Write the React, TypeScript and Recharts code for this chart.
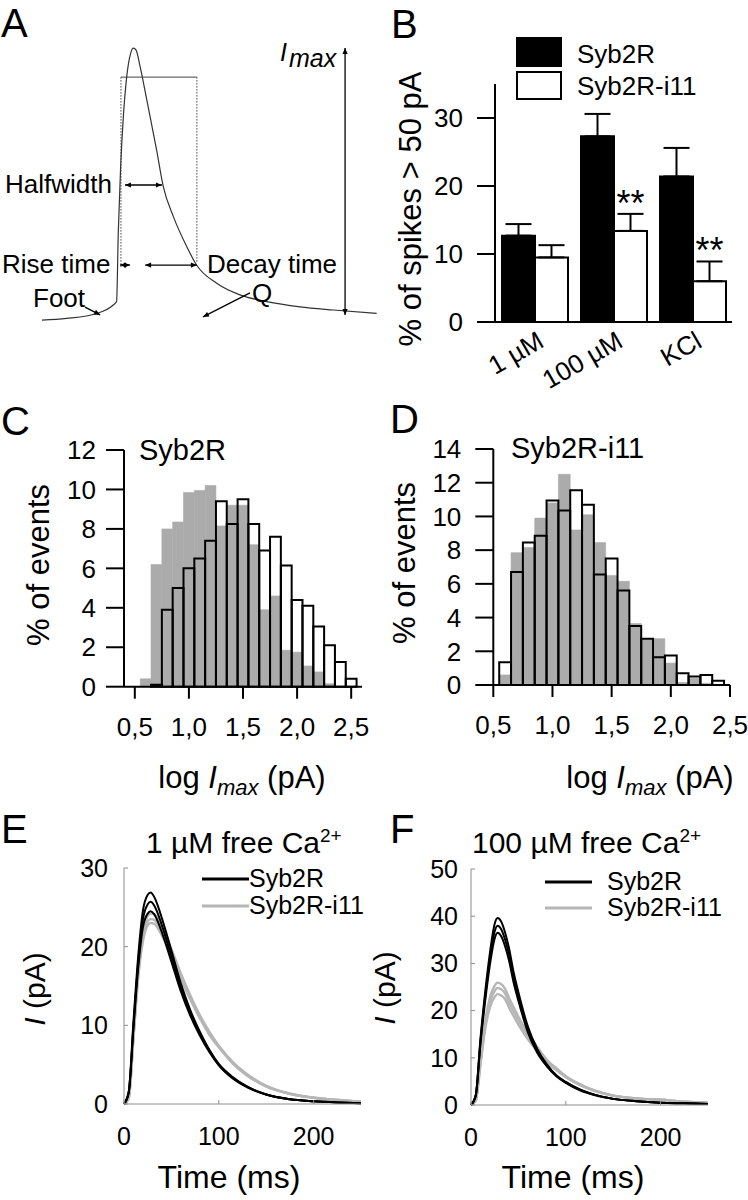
import React from "react";
import {
  Bar,
  BarChart,
  ErrorBar,
  LabelList,
  Legend,
  Line,
  LineChart,
  ReferenceLine,
  XAxis,
  YAxis,
} from "recharts";

const FONT = "'Liberation Sans', Arial, Helvetica, sans-serif";
const BAR_GRAY = "#ababab";
const LINE_GRAY = "#b6b6b6";
const AXIS_GRAY = "#8c8c8c";

// A: single amperometric spike, arbitrary units
const spikeTime = [0, 7.3, 16.3, 21.2, 22.2, 22.7, 23.4, 24.2, 25.2, 26.4, 27.2, 28.0, 29.2, 31.2, 34.1, 36.1, 39.1, 43.1, 46.0, 52.0, 58.9, 66.9, 76.8, 86.7, 99.6];
const spikeCurrent = [3.4, 4.0, 5.7, 8.6, 9.8, 33.4, 56.2, 73.4, 87.2, 95.5, 97.2, 96.5, 90.8, 79.3, 62.1, 49.4, 39.1, 28.7, 22.4, 16.1, 12.1, 9.8, 8.0, 6.9, 5.7];
// [x1, y1, x2, y2, dashed]
const guideSegments: [number, number, number, number, boolean][] = [
  [23.5, 87.2, 46.1, 87.2, false],
  [23.5, 87.2, 23.5, 21.7, true],
  [46.1, 87.2, 46.1, 23.1, true],
];
// [x1, y1, x2, y2, double headed]
const arrowSegments: [number, number, number, number, boolean][] = [
  [24.7, 50, 35.7, 50, true],
  [23.2, 22.4, 26.2, 22.4, true],
  [30.7, 22.4, 46.1, 22.4, true],
  [12.8, 7.9, 17.3, 5.2, false],
  [61.9, 12.8, 47.9, 4.5, false],
  [90.2, 5.2, 90.2, 97.2, true],
];

// B
const conditions = ["1 µM", "100 µM", "KCl"];
const syb2rPct = [12.7, 27.3, 21.4];
const syb2rSem = [1.7, 3.3, 4.2];
const i11Pct = [9.5, 13.4, 6.0];
const i11Sem = [1.8, 2.5, 2.9];
const i11Sig = ["", "**", "**"];

// C, D histograms (bin centres, % of events)
const logTicks = [0.5, 1.0, 1.5, 2.0, 2.5];
const binsC = [0.6, 0.7, 0.8, 0.9, 1.0, 1.1, 1.2, 1.3, 1.4, 1.5, 1.6, 1.7, 1.8, 1.9, 2.0, 2.1, 2.2, 2.3, 2.4, 2.5];
const cFilled = [0.4, 6.2, 8.0, 8.35, 9.85, 9.95, 10.2, 8.15, 9.2, 9.2, 7.2, 3.9, 4.6, 1.85, 1.75, 1.05, 0.75, 0.15, 0, 0];
const cOpen = [0, 0.1, 3.9, 5.0, 6.0, 6.5, 7.4, 9.4, 8.25, 9.5, 8.25, 6.9, 7.6, 6.15, 4.4, 4.1, 3.05, 2.1, 1.25, 0.4];
const binsD = [0.6, 0.7, 0.8, 0.9, 1.0, 1.1, 1.2, 1.3, 1.4, 1.5, 1.6, 1.7, 1.8, 1.9, 2.0, 2.1, 2.2, 2.3, 2.4];
const dFilled = [0.6, 7.85, 8.15, 9.9, 10.8, 12.5, 9.2, 10.1, 8.45, 6.5, 6.15, 3.65, 2.7, 2.75, 1.3, 0.15, 0.4, 0.1, 0];
const dOpen = [1.35, 6.7, 8.45, 8.85, 10.95, 10.35, 11.55, 10.7, 6.55, 7.5, 5.6, 3.5, 2.75, 1.65, 1.75, 0.7, 0.5, 0.6, 0.25];

// E, F mean spikes (pA)
const timeMs = [0, 5, 10, 15, 20, 25, 28, 32, 36, 40, 45, 50, 60, 70, 80, 90, 100, 115, 130, 150, 175, 200, 225, 250];
const eBlackHi = [0, 1.6, 10.5, 18.8, 24.6, 26.6, 26.9, 26.3, 25.1, 23.6, 21.6, 19.5, 15.3, 11.9, 9.2, 6.9, 5.1, 3.4, 2.2, 1.2, 0.6, 0.35, 0.2, 0.1];
const eBlackMid = [0, 1.5, 10, 18, 23.5, 25.4, 25.7, 25.2, 24.1, 22.7, 20.8, 18.8, 14.8, 11.6, 9.0, 6.8, 5.0, 3.3, 2.2, 1.2, 0.6, 0.35, 0.2, 0.1];
const eBlackLo = [0, 1.4, 9.6, 17.3, 22.5, 24.2, 24.5, 24.1, 23.1, 21.8, 20.0, 18.1, 14.3, 11.2, 8.7, 6.6, 4.9, 3.2, 2.1, 1.2, 0.6, 0.35, 0.2, 0.1];
const eGrayHi = [0, 0.8, 8.8, 17.0, 21.8, 23.9, 24.2, 24.1, 23.5, 22.5, 21.2, 19.7, 16.6, 13.8, 11.3, 9.2, 7.4, 5.3, 3.8, 2.3, 1.3, 0.8, 0.5, 0.3];
const eGrayMid = [0, 0.8, 8.5, 16.5, 21.2, 23.2, 23.5, 23.4, 22.8, 21.9, 20.6, 19.2, 16.2, 13.5, 11.1, 9.0, 7.3, 5.2, 3.7, 2.3, 1.3, 0.8, 0.5, 0.3];
const eGrayLo = [0, 0.7, 8.3, 16.1, 20.7, 22.7, 23.0, 22.9, 22.3, 21.4, 20.2, 18.8, 15.9, 13.3, 10.9, 8.8, 7.2, 5.1, 3.6, 2.2, 1.3, 0.8, 0.5, 0.3];
const fBlackHi = [0, 2.1, 14.1, 24, 32.3, 38.4, 39.6, 38.8, 36.5, 33.3, 28.1, 23.9, 16.6, 11.8, 8.6, 6.3, 4.9, 3.3, 2.2, 1.3, 0.8, 0.5, 0.35, 0.2];
const fBlackMid = [0, 2, 13.5, 23, 31, 36.8, 38, 37.2, 35, 32, 27, 23, 16, 11.4, 8.4, 6.2, 4.8, 3.2, 2.2, 1.3, 0.8, 0.5, 0.35, 0.2];
const fBlackLo = [0, 1.9, 13.0, 22.1, 29.8, 35.3, 36.5, 35.7, 33.6, 30.7, 25.9, 22.1, 15.4, 11.0, 8.2, 6.1, 4.7, 3.1, 2.1, 1.3, 0.8, 0.5, 0.35, 0.2];
const fGrayHi = [0, 1, 9.4, 17.8, 22.8, 25.3, 25.9, 25.6, 24.6, 22.8, 20.7, 18.7, 15.2, 12.3, 9.6, 7.8, 6.1, 4.4, 3.1, 2.0, 1.4, 1.1, 0.7, 0.5];
const fGrayMid = [0, 1, 9, 17, 21.8, 24.2, 24.8, 24.5, 23.6, 21.8, 19.8, 17.9, 14.6, 11.9, 9.3, 7.6, 6.0, 4.3, 3.1, 2.0, 1.4, 1.1, 0.7, 0.5];
const fGrayLo = [0, 0.9, 8.5, 16.1, 20.7, 22.9, 23.5, 23.2, 22.4, 20.7, 18.8, 17.0, 13.9, 11.4, 9.0, 7.4, 5.9, 4.2, 3.0, 2.0, 1.4, 1.1, 0.7, 0.5];

const spikeData = spikeTime.map((t, i) => ({ t, i: spikeCurrent[i] }));
const bData = conditions.map((cond, i) => ({
  cond,
  syb2r: syb2rPct[i],
  syb2rErr: [0, syb2rSem[i]],
  i11: i11Pct[i],
  i11Err: [0, i11Sem[i]],
}));
const cData = binsC.map((bin, i) => ({ bin, filled: cFilled[i], open: cOpen[i] }));
const dData = binsD.map((bin, i) => ({ bin, filled: dFilled[i], open: dOpen[i] }));
const eData = timeMs.map((t, i) => ({
  t, k1: eBlackHi[i], k2: eBlackMid[i], k3: eBlackLo[i], g1: eGrayHi[i], g2: eGrayMid[i], g3: eGrayLo[i],
}));
const fData = timeMs.map((t, i) => ({
  t, k1: fBlackHi[i], k2: fBlackMid[i], k3: fBlackLo[i], g1: fGrayHi[i], g2: fGrayMid[i], g3: fGrayLo[i],
}));

const comma = (v: number) => v.toFixed(1).replace(".", ",");
const blackAxis = { stroke: "#000", strokeWidth: 2 };
const grayAxis = { stroke: AXIS_GRAY, strokeWidth: 1 };
const tickFont = (size: number) => ({ fill: "#000", fontSize: size, fontFamily: FONT });

function head(x: number, y: number, ang: number) {
  const L = 6;
  const W = 2.6;
  const bx = x - L * Math.cos(ang);
  const by = y - L * Math.sin(ang);
  const px = -Math.sin(ang) * W;
  const py = Math.cos(ang) * W;
  return <polygon points={`${x},${y} ${bx + px},${by + py} ${bx - px},${by - py}`} fill="#000" />;
}

const arrowShape = (both: boolean) => (p: any) => {
  const { x1, y1, x2, y2 } = p;
  const ang = Math.atan2(y2 - y1, x2 - x1);
  return (
    <g>
      <line x1={x1} y1={y1} x2={x2} y2={y2} stroke="#000" strokeWidth={1.3} />
      {head(x2, y2, ang)}
      {both && head(x1, y1, ang + Math.PI)}
    </g>
  );
};

function PanelA() {
  return (
    <LineChart width={380} height={340} data={spikeData} margin={{ top: 40, right: 2, bottom: 10, left: 42 }}>
      <XAxis type="number" dataKey="t" domain={[0, 100]} hide />
      <YAxis type="number" domain={[0, 100]} hide />
      {guideSegments.map(([xa, ya, xb, yb, dashed], k) => (
        <ReferenceLine
          key={"g" + k}
          segment={[{ x: xa, y: ya }, { x: xb, y: yb }]}
          stroke="#444"
          strokeWidth={1}
          strokeDasharray={dashed ? "1.5 1.5" : undefined}
          ifOverflow="visible"
        />
      ))}
      <Line type="monotone" dataKey="i" stroke="#333" strokeWidth={1.2} dot={false} isAnimationActive={false} />
      {arrowSegments.map(([xa, ya, xb, yb, both], k) => (
        <ReferenceLine
          key={"a" + k}
          segment={[{ x: xa, y: ya }, { x: xb, y: yb }]}
          shape={arrowShape(both)}
          ifOverflow="visible"
        />
      ))}
    </LineChart>
  );
}

const CondTick = (p: any) => {
  const { x, y, payload } = p;
  const ax = x + 11;
  const ay = y + 24;
  return (
    <text x={ax} y={ay} textAnchor="end" fontSize={26} fontFamily={FONT} fill="#000" transform={`rotate(-30, ${ax}, ${ay})`}>
      {payload.value}
    </text>
  );
};

const Stars = (p: any) => {
  const vb = p.viewBox ?? p;
  const i = p.index;
  if (i == null || !i11Sig[i]) return null;
  const top = vb.y - (i11Sem[i] * vb.height) / i11Pct[i];
  return (
    <text x={vb.x + vb.width / 2} y={top + 2} textAnchor="middle" fontSize={36} fontFamily={FONT} fill="#000">
      {i11Sig[i]}
    </text>
  );
};

function BoxLegend() {
  return (
    <svg width={232} height={70}>
      <rect x={1} y={1} width={46} height={30} fill="#000" />
      <rect x={2} y={36} width={44} height={27} fill="#fff" stroke="#000" strokeWidth={2} />
      <text x={62} y={26.5} fontSize={26} fontFamily={FONT}>Syb2R</text>
      <text x={62} y={58.5} fontSize={26} fontFamily={FONT}>Syb2R-i11</text>
    </svg>
  );
}

function PanelB() {
  return (
    <BarChart width={368} height={400} data={bData} margin={{ top: 84, right: 16, bottom: 0, left: 0 }} barGap={0} barSize={33}>
      <XAxis dataKey="cond" height={78} axisLine={blackAxis} tickLine={false} tickSize={0} tickMargin={0} tick={<CondTick />} interval={0} />
      <YAxis
        width={115}
        domain={[0, 35]}
        ticks={[0, 10, 20, 30]}
        tickSize={18}
        tickMargin={14}
        axisLine={blackAxis}
        tickLine={blackAxis}
        tick={tickFont(26)}
        interval={0}
      />
      <Legend layout="vertical" align="center" verticalAlign="middle" wrapperStyle={{ left: 135, top: 36, width: 232, height: 70 }} content={() => <BoxLegend />} />
      <Bar dataKey="syb2r" fill="#000" stroke="#000" strokeWidth={2} isAnimationActive={false}>
        <ErrorBar dataKey="syb2rErr" direction="y" width={13} stroke="#000" strokeWidth={2} isAnimationActive={false} />
      </Bar>
      <Bar dataKey="i11" fill="#fff" stroke="#000" strokeWidth={2} isAnimationActive={false}>
        <ErrorBar dataKey="i11Err" direction="y" width={13} stroke="#000" strokeWidth={2} isAnimationActive={false} />
        <LabelList dataKey="i11" content={<Stars />} />
      </Bar>
    </BarChart>
  );
}

function Histogram(props: {
  data: any[];
  width: number;
  domain: [number, number];
  yMax: number;
  yTicks: number[];
  yWidth: number;
  top: number;
  xHeight: number;
  labelGap: number;
  barSize: number;
}) {
  const { data, width, domain, yMax, yTicks, yWidth, top, xHeight, labelGap, barSize } = props;
  return (
    <BarChart width={width} height={420} data={data} margin={{ top, right: 18, bottom: 0, left: 0 }}>
      <XAxis
        xAxisId="f"
        type="number"
        dataKey="bin"
        domain={domain}
        ticks={logTicks}
        tickFormatter={comma}
        height={xHeight}
        tickSize={12}
        tickMargin={19}
        axisLine={blackAxis}
        tickLine={blackAxis}
        tick={tickFont(26)}
        interval={0}
        allowDataOverflow
      />
      <XAxis xAxisId="o" type="number" dataKey="bin" domain={domain} ticks={logTicks} hide allowDataOverflow />
      <YAxis
        width={yWidth}
        domain={[0, yMax]}
        ticks={yTicks}
        tickSize={18}
        tickMargin={labelGap}
        axisLine={blackAxis}
        tickLine={blackAxis}
        tick={tickFont(26)}
        interval={0}
      />
      <Bar xAxisId="f" dataKey="filled" fill={BAR_GRAY} stroke={BAR_GRAY} strokeWidth={0.6} barSize={barSize} isAnimationActive={false} />
      <Bar xAxisId="o" dataKey="open" fill="none" stroke="#000" strokeWidth={2} barSize={barSize} isAnimationActive={false} />
    </BarChart>
  );
}

function LineLegend({ textX, y2 }: { textX: number; y2: number }) {
  return (
    <svg width={200} height={64}>
      <line x1={2} y1={19} x2={49} y2={19} stroke="#000" strokeWidth={3} />
      <text x={textX} y={27} fontSize={25} fontFamily={FONT}>Syb2R</text>
      <line x1={2} y1={y2} x2={49} y2={y2} stroke={LINE_GRAY} strokeWidth={3} />
      <text x={textX} y={y2 + 8} fontSize={25} fontFamily={FONT}>Syb2R-i11</text>
    </svg>
  );
}

function MeanSpikes(props: {
  data: any[];
  width: number;
  yMax: number;
  yTicks: number[];
  yWidth: number;
  top: number;
  right: number;
  xHeight: number;
  labelGap: number;
  legendPos: { left: number; top: number };
  legendTextX: number;
  legendY2: number;
}) {
  const { data, width, yMax, yTicks, yWidth, top, right, xHeight, labelGap, legendPos, legendTextX, legendY2 } = props;
  return (
    <LineChart width={width} height={420} data={data} margin={{ top, right, bottom: 0, left: 0 }}>
      <XAxis
        type="number"
        dataKey="t"
        domain={[0, 250]}
        ticks={[0, 100, 200]}
        height={xHeight}
        tickSize={-4}
        tickMargin={27}
        axisLine={grayAxis}
        tickLine={grayAxis}
        tick={tickFont(25)}
        interval={0}
      />
      <YAxis
        width={yWidth}
        domain={[0, yMax]}
        ticks={yTicks}
        tickSize={-4}
        tickMargin={labelGap}
        axisLine={grayAxis}
        tickLine={grayAxis}
        tick={tickFont(25)}
        interval={0}
      />
      <Legend
        layout="vertical"
        align="center"
        verticalAlign="middle"
        wrapperStyle={{ left: legendPos.left, top: legendPos.top, width: 200, height: 64 }}
        content={() => <LineLegend textX={legendTextX} y2={legendY2} />}
      />
      {["g1", "g2", "g3"].map((k) => (
        <Line key={k} type="monotone" dataKey={k} stroke={LINE_GRAY} strokeWidth={2.4} dot={false} isAnimationActive={false} />
      ))}
      {["k1", "k2", "k3"].map((k) => (
        <Line key={k} type="monotone" dataKey={k} stroke="#000" strokeWidth={2} dot={false} isAnimationActive={false} />
      ))}
    </LineChart>
  );
}

function Imax({ sub }: { sub: number }) {
  return (
    <>
      <tspan fontStyle="italic">I</tspan>
      <tspan fontStyle="italic" fontSize={sub} dy={7.4}>max</tspan>
    </>
  );
}

function Overlay() {
  return (
    <svg width={748} height={1200} style={{ position: "absolute", left: 0, top: 0, pointerEvents: "none" }}>
      <g fontFamily={FONT} fill="#000">
        <g fontSize={40}>
          <text x={1} y={37}>A</text>
          <text x={391} y={38}>B</text>
          <text x={1} y={435}>C</text>
          <text x={390} y={433}>D</text>
          <text x={1} y={843}>E</text>
          <text x={390} y={843}>F</text>
        </g>
        <g fontSize={26}>
          <text x={5} y={193}>Halfwidth</text>
          <text x={2} y={273}>Rise time</text>
          <text x={207} y={273}>Decay time</text>
          <text x={33} y={307}>Foot</text>
          <text x={252} y={302}>Q</text>
        </g>
        <text x={280} y={61} fontSize={25} fontStyle="italic">
          I<tspan fontSize={25} dx={2} dy={6}>max</tspan>
        </text>
        <text transform="translate(410,209) rotate(-90)" textAnchor="middle" dominantBaseline="central" fontSize={31}>
          % of spikes &gt; 50 pA
        </text>
        <text x={139} y={460} fontSize={29}>Syb2R</text>
        <text x={511} y={458} fontSize={29}>Syb2R-i11</text>
        <text transform="translate(38,565) rotate(-90)" textAnchor="middle" dominantBaseline="central" fontSize={31}>% of events</text>
        <text transform="translate(404,563) rotate(-90)" textAnchor="middle" dominantBaseline="central" fontSize={31}>% of events</text>
        <text x={242} y={788} textAnchor="middle" fontSize={31}>
          {"log "}<Imax sub={22} /><tspan dy={-7.4}>{" (pA)"}</tspan>
        </text>
        <text x={650} y={788} textAnchor="middle" fontSize={31}>
          {"log "}<Imax sub={22} /><tspan dy={-7.4}>{" (pA)"}</tspan>
        </text>
        <text x={146} y={853} fontSize={30}>
          1 µM free Ca<tspan fontSize={19} dy={-11}>2+</tspan>
        </text>
        <text x={472} y={853} fontSize={30}>
          100 µM free Ca<tspan fontSize={19} dy={-11}>2+</tspan>
        </text>
        <text transform="translate(34,989) rotate(-90)" textAnchor="middle" dominantBaseline="central" fontSize={30}>
          <tspan fontStyle="italic">I</tspan>{" (pA)"}
        </text>
        <text transform="translate(384,988) rotate(-90)" textAnchor="middle" dominantBaseline="central" fontSize={30}>
          <tspan fontStyle="italic">I</tspan>{" (pA)"}
        </text>
        <text x={229} y={1188} textAnchor="middle" fontSize={32}>Time (ms)</text>
        <text x={573} y={1188} textAnchor="middle" fontSize={32}>Time (ms)</text>
      </g>
    </svg>
  );
}

export default function App() {
  return (
    <div style={{ position: "absolute", left: 0, top: 0, width: 748, height: 1200, background: "#fff", fontFamily: FONT }}>
      <div style={{ position: "absolute", left: 0, top: 0 }}>
        <PanelA />
      </div>
      <div style={{ position: "absolute", left: 0, top: 370 }}>
        <Histogram data={cData} width={380} domain={[0.4, 2.6]} yMax={12} yTicks={[0, 2, 4, 6, 8, 10, 12]} yWidth={124} top={80} xHeight={103.3} labelGap={10} barSize={10.8} />
      </div>
      <div style={{ position: "absolute", left: 380, top: 370 }}>
        <Histogram data={dData} width={368} domain={[0.5, 2.5]} yMax={14} yTicks={[0, 2, 4, 6, 8, 10, 12, 14]} yWidth={113.3} top={79} xHeight={105} labelGap={14} barSize={11.8} />
      </div>
      <div style={{ position: "absolute", left: 380, top: 0 }}>
        <PanelB />
      </div>
      <div style={{ position: "absolute", left: 0, top: 780 }}>
        <MeanSpikes
          data={eData}
          width={380}
          yMax={30}
          yTicks={[0, 10, 20, 30]}
          yWidth={124}
          top={88}
          right={19}
          xHeight={96}
          labelGap={20}
          legendPos={{ left: 200, top: 80 }}
          legendTextX={49}
          legendY2={46}
        />
      </div>
      <div style={{ position: "absolute", left: 380, top: 780 }}>
        <MeanSpikes
          data={fData}
          width={368}
          yMax={50}
          yTicks={[0, 10, 20, 30, 40, 50]}
          yWidth={91}
          top={89}
          right={40}
          xHeight={95}
          labelGap={17}
          legendPos={{ left: 163, top: 83 }}
          legendTextX={64}
          legendY2={45}
        />
      </div>
      <Overlay />
    </div>
  );
}
